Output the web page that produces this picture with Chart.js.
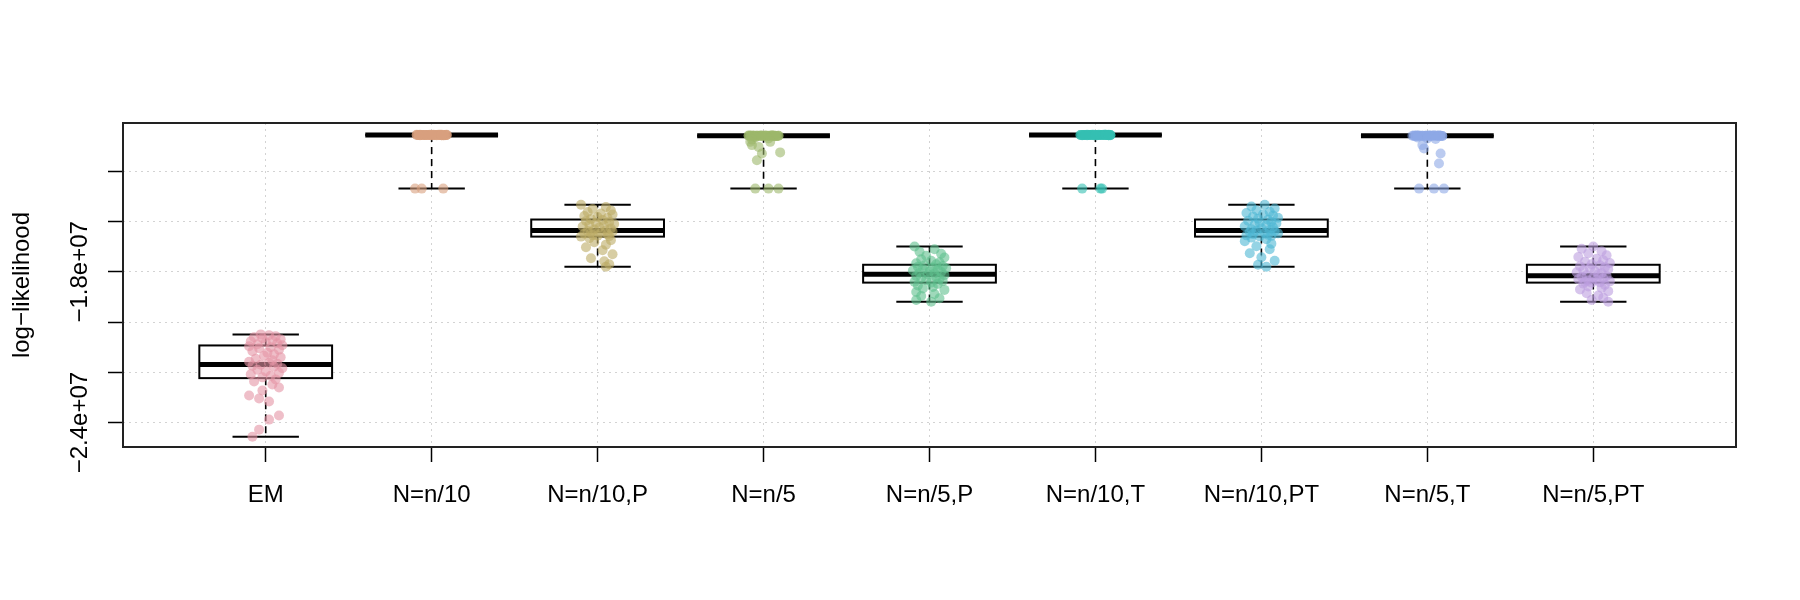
<!DOCTYPE html>
<html><head><meta charset="utf-8">
<script src="https://cdn.jsdelivr.net/npm/chart.js@4.4.1/dist/chart.umd.min.js"></script>
<style>html,body{margin:0;padding:0;background:#fff}canvas{display:block}</style>
</head><body>
<canvas id="c" width="1800" height="600" style="width:1800px;height:600px"></canvas>
<script>
// ---- data (values in units of 1e6) ----
const UNIT = 1e6;
const categories = ["EM","N=n/10","N=n/10,P","N=n/5","N=n/5,P","N=n/10,T","N=n/10,PT","N=n/5,T","N=n/5,PT"];
const yTickValues = [-24,-22,-20,-18,-16,-14];
const yTickLabels = ["\u22122.4e+07","","","\u22121.8e+07","",""];
const yAxisTitle = "log\u2212likelihood";
const yRange = [-24.97, -12.08];
const xRange = [0.14, 9.86];

// boxplot statistics
const boxMax    = [-20.49,-12.56,-15.33,-12.59,-16.99,-12.56,-15.33,-12.59,-16.99];
const boxQ3     = [-20.93,-12.56,-15.92,-12.59,-17.72,-12.56,-15.92,-12.59,-17.72];
const boxMedian = [-21.69,-12.56,-16.36,-12.59,-18.10,-12.56,-16.36,-12.59,-18.16];
const boxQ1     = [-22.23,-12.56,-16.60,-12.59,-18.43,-12.56,-16.60,-12.59,-18.43];
const boxMin    = [-24.56,-14.69,-17.80,-14.69,-19.19,-14.69,-17.80,-14.69,-19.19];

// jittered points: values and horizontal jitter offsets
const emVals = [-20.49,-20.52,-20.56,-20.60,-20.64,-20.68,-20.72,-20.76,-20.80,-20.84,-20.88,-20.92,
 -20.96,-21.00,-21.04,-21.10,-21.16,-21.22,-21.28,-21.34,-21.40,-21.46,-21.52,-21.58,-21.62,-21.66,-21.70,-21.74,-21.78,-21.84,-21.90,-21.96,-22.02,-22.08,-22.14,-22.20,
 -22.28,-22.36,-22.48,-22.60,-22.72,-22.92,-23.04,-23.16,-23.72,-23.88,-24.28,-24.56];
const emJit = [-0.03,0.02,0.06,-0.07,-0.02,0.09,0.04,-0.09,0.00,0.07,-0.05,0.10,
 -0.10,0.03,-0.04,0.08,-0.08,0.01,0.05,-0.01,0.09,-0.06,0.04,-0.10,0.02,0.07,-0.03,-0.08,0.05,0.10,-0.05,0.00,0.08,-0.09,0.03,-0.02,
 0.06,-0.07,0.04,0.08,-0.02,-0.10,-0.04,0.02,0.08,0.02,-0.04,-0.08];

const n10Vals = [-12.56,-12.55,-12.56,-12.57,-12.56,-12.55,-12.56,-12.56,-12.57,-12.56,
 -12.55,-12.56,-12.57,-12.56,-12.56,-12.55,-12.56,-12.57,-12.56,-12.56,
 -12.55,-12.56,-12.56,-12.57,-12.56,-12.55,-12.56,-12.56,-12.57,-12.56,
 -12.56,-12.55,-12.56,-12.57,-12.56,-12.56,-12.55,-12.56,-12.57,-12.56,
 -12.56,-14.69,-14.69,-14.69];
const n10Jit = [-0.09,0.04,-0.02,0.07,-0.06,0.01,0.09,-0.04,0.03,-0.08,
 0.06,-0.01,0.08,-0.05,0.02,-0.07,0.05,0.00,-0.03,0.09,
 -0.09,0.03,-0.06,0.07,-0.02,0.05,-0.08,0.01,0.06,-0.04,
 0.08,-0.01,0.04,-0.07,0.02,-0.05,0.09,-0.03,0.06,0.00,
 -0.08,-0.10,-0.06,0.07];

const n10pVals = [-15.33,-15.42,-15.50,-15.56,-15.62,-15.68,-15.72,-15.78,-15.82,-15.86,-15.90,
 -15.94,-15.98,-16.02,-16.06,-16.10,-16.13,-16.16,-16.20,-16.24,-16.28,-16.32,-16.36,-16.38,-16.40,-16.43,-16.46,-16.48,-16.51,-16.54,-16.56,-16.58,-16.60,
 -16.66,-16.74,-16.82,-16.92,-17.02,-17.14,-17.30,-17.46,-17.58,-17.70,-17.80];
const n10pJit = [-0.10,0.05,-0.03,0.08,-0.06,0.02,0.09,-0.08,0.00,0.06,-0.04,
 0.03,-0.07,0.07,-0.01,0.10,-0.05,0.04,-0.09,0.01,0.08,-0.02,0.05,-0.06,0.09,-0.04,0.02,-0.08,0.06,-0.03,0.00,0.07,-0.10,
 -0.05,0.08,-0.02,0.05,-0.07,0.03,0.09,-0.04,0.04,0.07,0.05];

const n5Vals = [-12.59,-12.58,-12.59,-12.60,-12.59,-12.58,-12.59,-12.59,-12.60,-12.59,
 -12.58,-12.59,-12.60,-12.59,-12.59,-12.58,-12.59,-12.60,-12.59,-12.59,
 -12.58,-12.59,-12.59,-12.60,-12.59,-12.58,-12.59,-12.59,-12.60,-12.59,-12.59,-12.58,
 -12.66,-12.70,-12.74,-12.83,-12.83,-12.96,-13.03,-13.25,-13.29,-13.56,
 -14.69,-14.69,-14.69];
const n5Jit = [-0.09,0.05,-0.02,0.08,-0.06,0.01,0.09,-0.04,0.03,-0.08,0.06,-0.01,0.07,-0.05,0.02,-0.07,
 0.04,0.00,-0.03,0.09,-0.09,0.03,-0.06,0.06,-0.02,0.05,-0.08,0.01,0.08,-0.04,0.07,-0.01,
 -0.05,0.03,-0.07,0.04,-0.08,-0.07,-0.03,0.10,-0.01,-0.04,
 -0.05,0.03,0.09];

const n5pVals = [-16.99,-17.10,-17.20,-17.28,-17.36,-17.43,-17.50,-17.56,-17.62,-17.66,-17.70,
 -17.74,-17.77,-17.80,-17.83,-17.86,-17.89,-17.92,-17.95,-17.98,-18.01,-18.04,-18.07,-18.10,-18.13,-18.17,-18.21,-18.25,-18.29,-18.33,-18.37,-18.40,-18.43,
 -18.48,-18.54,-18.60,-18.66,-18.72,-18.80,-18.88,-18.96,-19.05,-19.12,-19.19];
const n5pJit = [-0.09,0.03,-0.06,0.07,-0.02,0.09,-0.05,0.01,0.06,-0.08,0.04,
 -0.03,0.08,-0.07,0.02,0.10,-0.04,0.05,-0.10,0.00,0.07,-0.06,0.03,-0.01,0.09,-0.08,0.04,-0.05,0.06,-0.02,0.08,-0.09,0.01,
 0.05,-0.07,0.02,-0.04,0.09,-0.08,0.03,-0.05,0.06,-0.08,0.01];

const n10tVals = [-12.56,-12.56,-12.55,-12.56,-12.57,-12.56,-12.56,-12.55,-12.56,-12.57,
 -12.56,-12.55,-12.56,-12.56,-12.57,-12.56,-12.55,-12.56,-12.56,-12.57,
 -12.56,-12.56,-12.55,-12.56,-12.57,-12.56,-12.56,-12.55,-12.56,-12.57,
 -12.56,-12.56,-12.55,-12.56,-12.57,-12.56,-12.56,-12.55,-12.56,-12.56,
 -12.57,-14.69,-14.69,-14.69];
const n10tJit = [0.02,-0.07,0.06,-0.03,0.09,-0.09,0.04,-0.01,0.07,-0.05,
 0.01,0.08,-0.06,0.03,-0.08,0.05,-0.02,0.09,-0.04,0.00,
 0.06,-0.07,0.02,-0.09,0.08,-0.03,0.04,-0.05,0.07,-0.01,
 0.03,-0.08,0.05,-0.06,0.01,0.09,-0.02,0.06,-0.04,0.00,
 0.08,-0.08,0.03,0.04];

const n10ptVals = [-15.33,-15.40,-15.48,-15.55,-15.61,-15.66,-15.71,-15.76,-15.80,-15.85,-15.89,
 -15.93,-15.97,-16.01,-16.05,-16.08,-16.12,-16.15,-16.19,-16.23,-16.27,-16.31,-16.34,-16.37,-16.39,-16.42,-16.45,-16.47,-16.50,-16.53,-16.55,-16.57,-16.59,
 -16.64,-16.70,-16.78,-16.88,-16.98,-17.10,-17.26,-17.42,-17.56,-17.72,-17.80];
const n10ptJit = [0.02,-0.06,0.08,-0.03,0.05,-0.09,0.01,0.07,-0.05,0.10,-0.02,
 0.04,-0.08,0.06,-0.01,0.09,-0.04,0.03,-0.10,0.07,0.00,-0.06,0.05,-0.03,0.08,-0.07,0.02,0.10,-0.05,0.04,-0.09,0.06,-0.01,
 -0.06,0.03,-0.10,0.06,-0.03,0.05,-0.07,0.00,0.08,-0.02,0.03];

const n5tVals = [-12.59,-12.58,-12.59,-12.60,-12.59,-12.59,-12.58,-12.59,-12.60,-12.59,
 -12.58,-12.59,-12.59,-12.60,-12.59,-12.58,-12.59,-12.59,-12.60,-12.59,
 -12.58,-12.59,-12.60,-12.59,-12.59,-12.58,-12.59,-12.60,-12.59,-12.59,-12.58,-12.59,
 -12.66,-12.70,-12.72,-12.96,-13.09,-13.29,-13.69,
 -14.69,-14.69,-14.69];
const n5tJit = [0.08,-0.05,0.02,-0.08,0.06,-0.01,0.04,-0.07,0.09,-0.03,0.01,-0.09,0.07,-0.04,0.03,-0.06,
 0.05,0.00,-0.02,0.08,-0.08,0.02,-0.05,0.06,-0.01,0.04,-0.07,0.09,-0.03,0.01,0.07,-0.06,
 -0.06,0.00,0.05,-0.03,-0.02,0.08,0.07,
 -0.05,0.04,0.10];

const n5ptVals = [-16.99,-17.08,-17.18,-17.26,-17.34,-17.41,-17.48,-17.54,-17.60,-17.65,-17.70,
 -17.74,-17.78,-17.82,-17.86,-17.90,-17.94,-17.98,-18.02,-18.06,-18.10,-18.14,-18.17,-18.20,-18.23,-18.26,-18.29,-18.32,-18.35,-18.38,-18.40,-18.42,-18.43,
 -18.47,-18.52,-18.58,-18.64,-18.70,-18.77,-18.85,-18.94,-19.03,-19.12,-19.19];
const n5ptJit = [0.00,-0.07,0.05,-0.03,0.08,-0.09,0.02,0.06,-0.05,0.10,-0.01,
 0.04,-0.08,0.07,-0.02,0.09,-0.06,0.01,-0.10,0.05,0.03,-0.04,0.08,-0.07,0.00,0.06,-0.09,0.02,-0.03,0.10,-0.05,0.04,-0.01,
 -0.06,0.07,-0.03,0.05,-0.08,0.09,-0.04,0.03,0.06,-0.01,0.09];

const pointColors = ["rgba(228,149,165,0.6)","rgba(216,160,126,0.6)","rgba(189,171,102,0.6)",
 "rgba(156,184,106,0.6)","rgba(95,191,142,0.6)","rgba(53,191,178,0.6)",
 "rgba(79,183,212,0.6)","rgba(142,168,230,0.6)","rgba(189,159,224,0.6)"];

// ---- build datasets ----
const groupVals = [emVals,n10Vals,n10pVals,n5Vals,n5pVals,n10tVals,n10ptVals,n5tVals,n5ptVals];
const groupJit  = [emJit,n10Jit,n10pJit,n5Jit,n5pJit,n10tJit,n10ptJit,n5tJit,n5ptJit];
const datasets = categories.map((name, g) => ({
  label: name,
  data: groupVals[g].map((v, k) => ({x: g + 1 + groupJit[g][k], y: v * UNIT})),
  backgroundColor: pointColors[g],
  borderWidth: 0,
  pointRadius: 5,
  pointHoverRadius: 5
}));

const FONT = "'Liberation Sans', Arial, Helvetica, sans-serif";

const boxPlugin = {
  id: 'boxes',
  beforeDatasetsDraw(chart) {
    const {ctx, scales: {x, y}} = chart;
    const line = (x1, y1, x2, y2) => { ctx.beginPath(); ctx.moveTo(x1, y1); ctx.lineTo(x2, y2); ctx.stroke(); };
    ctx.save();
    ctx.strokeStyle = '#000';
    categories.forEach((c, i) => {
      const cx = x.getPixelForValue(i + 1);
      const hw = x.getPixelForValue(i + 1.4) - cx;
      const sw = x.getPixelForValue(i + 1.2) - cx;
      const yMax = y.getPixelForValue(boxMax[i] * UNIT);
      const yQ3 = y.getPixelForValue(boxQ3[i] * UNIT);
      const yMed = y.getPixelForValue(boxMedian[i] * UNIT);
      const yQ1 = y.getPixelForValue(boxQ1[i] * UNIT);
      const yMin = y.getPixelForValue(boxMin[i] * UNIT);
      ctx.lineCap = 'butt';
      ctx.lineWidth = 1.6;
      ctx.setLineDash([7, 5]);
      line(cx, yQ3, cx, yMax);
      line(cx, yQ1, cx, yMin);
      ctx.setLineDash([]);
      ctx.lineWidth = 2;
      line(cx - sw, yMax, cx + sw, yMax);
      line(cx - sw, yMin, cx + sw, yMin);
      ctx.fillStyle = '#fff';
      ctx.fillRect(cx - hw, yQ3, 2 * hw, yQ1 - yQ3);
      ctx.strokeRect(cx - hw, yQ3, 2 * hw, yQ1 - yQ3);
      ctx.lineWidth = 5;
      line(cx - hw, yMed, cx + hw, yMed);
    });
    ctx.restore();
  },
  afterDraw(chart) {
    const {ctx, chartArea: a, scales: {y}} = chart;
    ctx.save();
    ctx.strokeStyle = '#222';
    ctx.lineWidth = 2;
    ctx.strokeRect(a.left, a.top, a.right - a.left, a.bottom - a.top);
    ctx.fillStyle = '#000';
    ctx.font = '24px ' + FONT;
    ctx.textAlign = 'center';
    ctx.textBaseline = 'alphabetic';
    yTickValues.forEach((v, i) => {
      if (!yTickLabels[i]) return;
      const py = y.getPixelForValue(v * UNIT);
      ctx.save();
      ctx.translate(87, py);
      ctx.rotate(-Math.PI / 2);
      ctx.fillText(yTickLabels[i], 0, 0);
      ctx.restore();
    });
    ctx.restore();
  }
};

new Chart(document.getElementById('c'), {
  type: 'scatter',
  data: {datasets},
  plugins: [boxPlugin],
  options: {
    responsive: false,
    animation: false,
    devicePixelRatio: 1,
    events: [],
    layout: {padding: {top: 123, right: 64, left: 0, bottom: 0}},
    plugins: {legend: {display: false}, tooltip: {enabled: false}},
    scales: {
      x: {
        type: 'linear',
        min: xRange[0], max: xRange[1],
        afterBuildTicks: s => { s.ticks = categories.map((c, i) => ({value: i + 1})); },
        afterFit: s => { s.height = 153; },
        ticks: {
          autoSkip: false, maxRotation: 0, minRotation: 0,
          padding: 19, color: '#000',
          font: {family: FONT, size: 24},
          callback: (v, i) => categories[i]
        },
        grid: {color: '#d3d3d3', lineWidth: 1, drawTicks: true, tickLength: 15, tickColor: '#000', tickWidth: 1.5},
        border: {display: false, dash: [2, 4]}
      },
      y: {
        type: 'linear',
        min: yRange[0] * UNIT, max: yRange[1] * UNIT,
        afterBuildTicks: s => { s.ticks = yTickValues.map(v => ({value: v * UNIT})); },
        afterFit: s => { s.width = 123; },
        ticks: {display: false},
        grid: {color: '#d3d3d3', lineWidth: 1, drawTicks: true, tickLength: 15, tickColor: '#000', tickWidth: 1.5},
        border: {display: false, dash: [2, 4]},
        title: {display: true, text: yAxisTitle, color: '#000', font: {family: FONT, size: 24}, padding: {top: 8, bottom: 0}}
      }
    }
  }
});
</script>
</body></html>
